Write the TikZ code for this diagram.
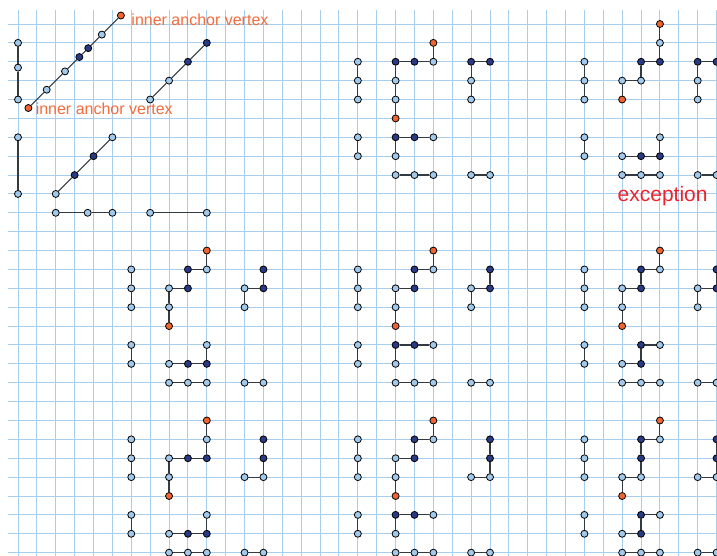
\documentclass[tikz,border=0pt]{standalone}
\usepackage{fontspec}
\setmainfont{Liberation Sans}
\definecolor{gridc}{RGB}{168,206,238}
\definecolor{lightv}{RGB}{160,201,236}
\definecolor{darkv}{RGB}{40,58,132}
\definecolor{orangev}{RGB}{240,100,48}
\definecolor{edgec}{RGB}{52,58,66}
\definecolor{labc}{RGB}{242,108,60}
\definecolor{excc}{RGB}{236,34,44}
\newcounter{chn}
\newcommand\chainpath[1]{%
  \stepcounter{chn}%
  \foreach \cx/\cy/\cty [count=\ci, remember=\ci as \cj (initially 0)] in {#1}{%
    \node[v\cty] (c\arabic{chn}-\ci) at (\cx,\cy) {};
    \ifnum\ci>1 \draw[edge] (c\arabic{chn}-\cj) -- (c\arabic{chn}-\ci);\fi
  }}
\tikzset{
  gridline/.style={draw=gridc, line width=1pt},
  vbase/.style={circle, draw=black, line width=0.8pt, minimum size=7pt, inner sep=0pt},
  vL/.style={vbase, fill=lightv},
  vD/.style={vbase, fill=darkv},
  vO/.style={vbase, fill=orangev},
  edge/.style={draw=edgec, line width=1.1pt},
  lab/.style={text=labc, font=\fontsize{16}{18}\selectfont, anchor=base west, inner sep=0pt},
  exc/.style={text=excc, font=\fontsize{21}{24}\selectfont, anchor=base west, inner sep=0pt}
}
\begin{document}
\begin{tikzpicture}[x=18.88pt, y=-18.88pt]
\useasboundingbox (-0.9534,-1.2712) rectangle (37.0233,28.125);
% grid
\foreach \k in {0,...,37} \draw[gridline] (\k,-0.7415) -- (\k,28.2);
\foreach \m in {0,...,28} \draw[gridline] (-0.5297,\m) -- (37.1,\m);
% top-left panel
\chainpath{0/1/L, 0/2.31/L, 0/4/L}
\chainpath{0.55/4.45/O, 1.52/3.48/L, 2.49/2.51/L, 3.25/1.75/D, 3.72/1.28/D, 4.44/0.56/L, 5.45/-0.45/O}
\chainpath{7/4/L, 8/3/L, 9/2/D, 10/1/D}
\chainpath{0/6/L, 0/9/L}
\chainpath{2/9/L, 3/8/D, 4/7/D, 5/6/L}
\chainpath{2/10/L, 3.69/10/L, 5/10/L}
\chainpath{7/10/L, 10/10/L}
\node[lab] (l1) at (6.0,0.053) {inner anchor vertex};
\node[lab] (l2) at (0.93,4.78) {inner anchor vertex};
% row 1 col 2
\chainpath{18/2/L, 18/3/L, 18/4/L}
\chainpath{18/6/L, 18/7/L}
\chainpath{22/1/O, 22/2/L, 21/2/D, 20/2/D, 20/3/L, 20/4/L, 20/5/O}
\chainpath{22/6/L, 21/6/D, 20/6/D, 20/7/L}
\chainpath{20/8/L, 21/8/L, 22/8/L}
\chainpath{25/2/D, 24/2/D, 24/3/L, 24/4/L}
\chainpath{24/8/L, 25/8/L}
% row 1 col 3
\chainpath{30/2/L, 30/3/L, 30/4/L}
\chainpath{30/6/L, 30/7/L}
\chainpath{34/0/O, 34/1/L, 34/2/D, 33/2/D, 33/3/L, 32/3/L, 32/4/O}
\chainpath{34/6/L, 34/7/D, 33/7/D, 32/7/L}
\chainpath{32/8/L, 33/8/L, 34/8/L}
\chainpath{37/2/D, 36/2/D, 36/3/L, 36/4/L}
\chainpath{36/8/L, 37/8/L}
\node[exc] (ex) at (31.75,9.41) {exception};
% row 2 col 1
\chainpath{6/13/L, 6/14/L, 6/15/L}
\chainpath{6/17/L, 6/18/L}
\chainpath{10/12/O, 10/13/L, 9/13/D, 9/14/D, 8/14/L, 8/15/L, 8/16/O}
\chainpath{10/17/L, 10/18/D, 9/18/D, 8/18/L}
\chainpath{8/19/L, 9/19/L, 10/19/L}
\chainpath{13/13/D, 13/14/D, 12/14/L, 12/15/L}
\chainpath{12/19/L, 13/19/L}
% row 2 col 2
\chainpath{18/13/L, 18/14/L, 18/15/L}
\chainpath{18/17/L, 18/18/L}
\chainpath{22/12/O, 22/13/L, 21/13/D, 21/14/D, 20/14/L, 20/15/L, 20/16/O}
\chainpath{22/17/L, 21/17/D, 20/17/D, 20/18/L}
\chainpath{20/19/L, 21/19/L, 22/19/L}
\chainpath{25/13/D, 25/14/D, 24/14/L, 24/15/L}
\chainpath{24/19/L, 25/19/L}
% row 2 col 3
\chainpath{30/13/L, 30/14/L, 30/15/L}
\chainpath{30/17/L, 30/18/L}
\chainpath{34/12/O, 34/13/L, 33/13/D, 33/14/D, 32/14/L, 32/15/L, 32/16/O}
\chainpath{34/17/L, 33/17/D, 33/18/D, 32/18/L}
\chainpath{32/19/L, 33/19/L, 34/19/L}
\chainpath{37/13/D, 37/14/D, 36/14/L, 36/15/L}
\chainpath{36/19/L, 37/19/L}
% row 3 col 1
\chainpath{6/22/L, 6/23/L, 6/24/L}
\chainpath{6/26/L, 6/27/L}
\chainpath{10/21/O, 10/22/L, 10/23/D, 9/23/D, 8/23/L, 8/24/L, 8/25/O}
\chainpath{10/26/L, 10/27/D, 9/27/D, 8/27/L}
\chainpath{8/28/L, 9/28/L, 10/28/L}
\chainpath{13/22/D, 13/23/D, 13/24/L, 12/24/L}
\chainpath{12/28/L, 13/28/L}
% row 3 col 2
\chainpath{18/22/L, 18/23/L, 18/24/L}
\chainpath{18/26/L, 18/27/L}
\chainpath{22/21/O, 22/22/L, 21/22/D, 21/23/D, 20/23/L, 20/24/L, 20/25/O}
\chainpath{22/26/L, 21/26/D, 20/26/D, 20/27/L}
\chainpath{20/28/L, 21/28/L, 22/28/L}
\chainpath{25/22/D, 25/23/D, 25/24/L, 24/24/L}
\chainpath{24/28/L, 25/28/L}
% row 3 col 3
\chainpath{30/22/L, 30/23/L, 30/24/L}
\chainpath{30/26/L, 30/27/L}
\chainpath{34/21/O, 34/22/L, 33/22/D, 33/23/D, 33/24/L, 32/24/L, 32/25/O}
\chainpath{34/26/L, 33/26/D, 33/27/D, 32/27/L}
\chainpath{32/28/L, 33/28/L, 34/28/L}
\chainpath{37/22/D, 37/23/D, 37/24/L, 36/24/L}
\chainpath{36/28/L, 37/28/L}
\end{tikzpicture}
\end{document}
